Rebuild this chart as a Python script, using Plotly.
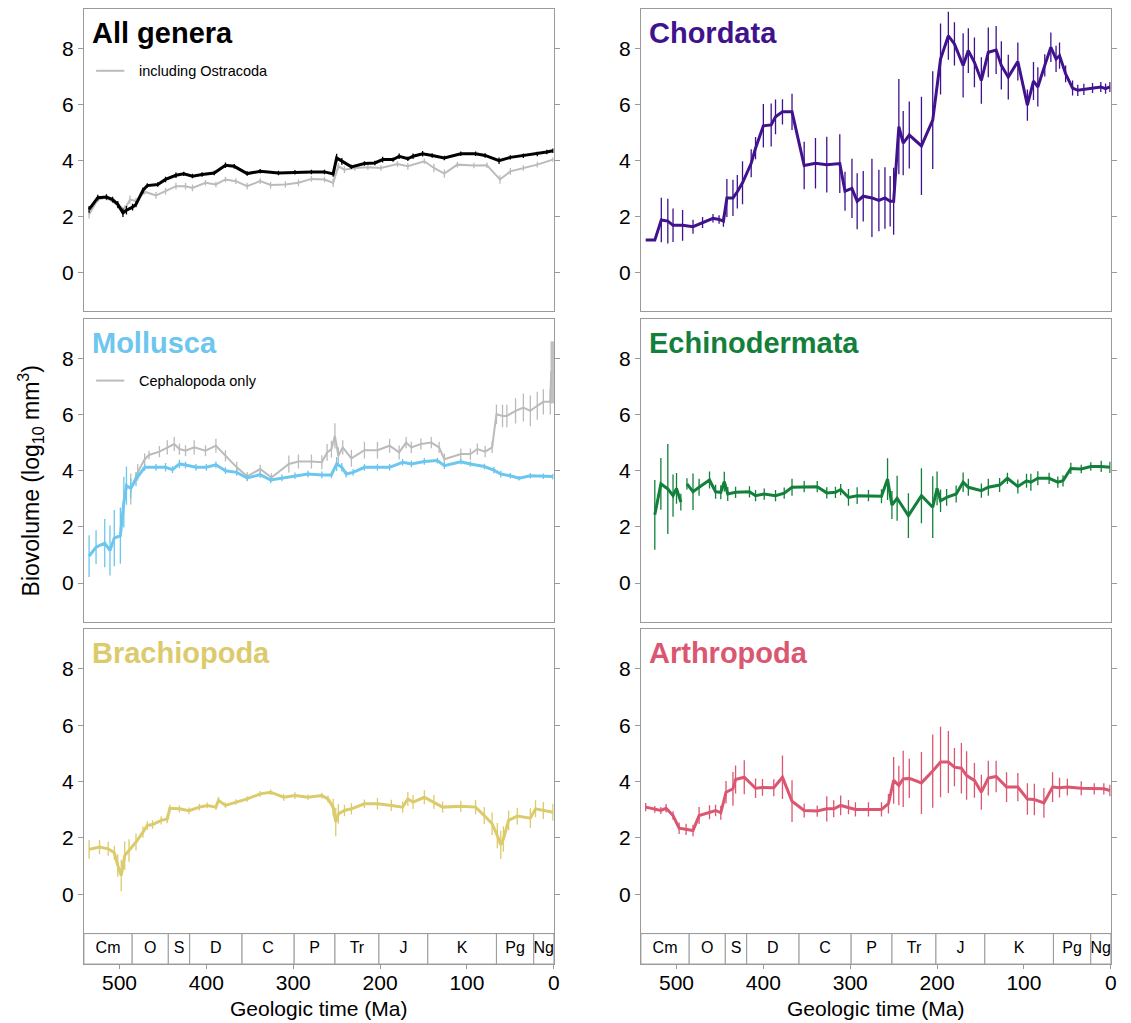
import plotly.graph_objects as go

# ---------------- data ----------------
period_names = ["Cm", "O", "S", "D", "C", "P", "Tr", "J", "K", "Pg", "Ng"]
period_start = [541.0, 485.4, 443.8, 419.2, 358.9, 298.9, 251.9, 201.3, 145.0, 66.0, 23.03]
period_end = [485.4, 443.8, 419.2, 358.9, 298.9, 251.9, 201.3, 145.0, 66.0, 23.03, 0.0]
time_ticks = [500, 400, 300, 200, 100, 0]
y_ticks = [0, 2, 4, 6, 8]

all_ma = [535, 525, 515, 508, 502, 496, 492, 485, 481, 473, 468, 456, 447, 435, 426, 416, 405, 391, 378, 368,
          353, 338, 317, 298, 279, 264, 254, 250, 244, 233, 218, 206, 197, 185, 178, 168, 162, 151, 140, 126,
          107, 90, 79, 63, 50, 35, 19, 8, 1]
all_val = [2.25, 2.67, 2.69, 2.6, 2.43, 2.13, 2.22, 2.33, 2.43, 2.93, 3.1, 3.14, 3.32, 3.47, 3.52, 3.44, 3.5, 3.55, 3.83, 3.79,
           3.53, 3.61, 3.55, 3.58, 3.59, 3.59, 3.52, 4.09, 3.97, 3.77, 3.89, 3.91, 4.03, 4.03, 4.15, 4.06, 4.15, 4.24, 4.18, 4.09,
           4.24, 4.24, 4.18, 3.99, 4.11, 4.17, 4.23, 4.3, 4.35]
all_err = [0.12, 0.1, 0.1, 0.1, 0.12, 0.15, 0.15, 0.12, 0.1, 0.1, 0.08, 0.08, 0.1, 0.1, 0.08, 0.08, 0.08, 0.08, 0.1, 0.08,
           0.08, 0.08, 0.08, 0.08, 0.08, 0.08, 0.1, 0.15, 0.12, 0.08, 0.08, 0.08, 0.1, 0.08, 0.1, 0.08, 0.1, 0.1, 0.08, 0.08,
           0.08, 0.08, 0.08, 0.12, 0.08, 0.08, 0.08, 0.08, 0.08]

ostra_ma = [535, 525, 515, 502, 494, 488, 481, 471, 458, 447, 435, 424, 416, 401, 389, 378, 366, 353, 338, 326,
            309, 294, 279, 264, 254, 248, 241, 229, 214, 199, 180, 168, 149, 138, 126, 111, 92, 77, 62, 50,
            35, 19, 1]
ostra_val = [2.07, 2.6, 2.67, 2.4, 2.25, 2.6, 2.55, 2.88, 2.75, 2.9, 3.08, 3.08, 3.02, 3.2, 3.14, 3.32, 3.26, 3.08, 3.26, 3.12,
             3.14, 3.2, 3.34, 3.32, 3.2, 3.79, 3.67, 3.73, 3.76, 3.73, 3.87, 3.79, 3.97, 3.73, 3.53, 3.85, 3.82, 3.83, 3.32, 3.61,
             3.73, 3.85, 4.03]
ostra_err = [0.15, 0.1, 0.1, 0.12, 0.15, 0.15, 0.12, 0.1, 0.12, 0.12, 0.12, 0.12, 0.12, 0.1, 0.1, 0.1, 0.1, 0.12, 0.1, 0.12,
             0.12, 0.12, 0.1, 0.1, 0.15, 0.12, 0.12, 0.1, 0.1, 0.1, 0.1, 0.12, 0.1, 0.15, 0.15, 0.1, 0.1, 0.1, 0.15, 0.12,
             0.1, 0.1, 0.08]

chord_ma = [535.5, 525, 517.5, 510, 504, 493, 481, 470, 458, 451, 446, 442, 435, 430, 424, 414, 409, 400, 391, 386,
            378, 367, 353, 340, 327, 312, 306, 298, 292, 285, 275, 267, 260, 254, 250, 244, 239, 232, 218, 205,
            196, 187, 180, 170, 164, 157, 149, 141, 132, 126, 118, 107, 96, 89, 84, 76, 69, 63, 59, 52,
            44, 38, 31, 21, 11.5, 6, 1]
chord_val = [1.15, 1.15, 1.87, 1.83, 1.68, 1.68, 1.63, 1.78, 1.93, 1.89, 1.83, 2.66, 2.66, 2.88, 3.2, 3.9, 4.44, 5.24, 5.27, 5.56,
             5.74, 5.74, 3.82, 3.9, 3.85, 3.89, 2.9, 3.0, 2.54, 2.72, 2.66, 2.57, 2.66, 2.54, 2.54, 5.21, 4.62, 4.91, 4.52, 5.44,
             7.63, 8.46, 8.17, 7.4, 7.93, 7.51, 6.86, 7.87, 7.95, 7.4, 6.98, 7.54, 5.98, 6.84, 6.63, 7.4, 8.05, 7.63, 7.75, 7.1,
             6.59, 6.51, 6.54, 6.59, 6.63, 6.57, 6.63]
chord_err = [0, 0, 0.8, 0.8, 0.6, 0.55, 0.25, 0.2, 0.15, 0.15, 0.2, 0.68, 0.65, 0.6, 0.77, 0.5, 0.4, 0.78, 0.77, 0.62,
             0.45, 0.65, 0.85, 0.9, 1.0, 1.05, 0.7, 1.06, 1.0, 0.9, 1.4, 1.1, 1.1, 0.9, 1.2, 1.7, 1.15, 1.2, 1.76, 1.75,
             1.27, 0.86, 0.77, 1.15, 0.8, 0.89, 0.83, 0.89, 0.86, 0.86, 0.8, 0.68, 0.56, 0.68, 0.7, 0.4, 0.53, 0.47, 0.47, 0.3,
             0.27, 0.2, 0.2, 0.18, 0.18, 0.18, 0.18]

moll_ma = [535, 527, 517, 511, 506, 499, 495, 492, 487, 481, 471, 458, 447, 439, 431, 424, 412, 400, 389, 378,
           365, 353, 338, 326, 313, 298, 283, 267, 256, 250, 244, 239, 231, 218, 203, 189, 174, 164, 149, 134,
           126, 107, 96, 80, 69, 61, 50, 40, 27, 12, 1]
moll_val = [0.96, 1.28, 1.42, 1.16, 1.6, 1.69, 2.88, 3.47, 3.37, 3.7, 4.12, 4.12, 4.12, 4.04, 4.24, 4.2, 4.12, 4.12, 4.21, 4.0,
            3.94, 3.74, 3.86, 3.67, 3.74, 3.82, 3.88, 3.85, 3.85, 4.24, 4.12, 3.88, 3.94, 4.12, 4.12, 4.12, 4.3, 4.24, 4.33, 4.36,
            4.18, 4.32, 4.24, 4.15, 4.02, 3.88, 3.82, 3.73, 3.82, 3.8, 3.79]
moll_err = [0.74, 0.6, 0.86, 0.89, 1.0, 1.0, 0.9, 0.68, 0.35, 0.25, 0.12, 0.12, 0.15, 0.12, 0.15, 0.12, 0.12, 0.12, 0.12, 0.12,
            0.12, 0.12, 0.12, 0.12, 0.12, 0.12, 0.12, 0.12, 0.12, 0.25, 0.15, 0.12, 0.12, 0.12, 0.12, 0.12, 0.12, 0.12, 0.12, 0.1,
            0.12, 0.1, 0.1, 0.1, 0.12, 0.12, 0.1, 0.08, 0.1, 0.1, 0.1]

ceph_ma = [487, 479, 471, 466, 454, 445, 437, 431, 424, 414, 401, 389, 378, 365, 353, 338, 325, 305, 294, 279,
           267, 261, 256, 252, 248, 243, 233, 218, 203, 189, 178, 170, 164, 153, 141, 132, 126, 107, 96, 88,
           79, 71, 66, 59, 54, 44, 35, 27, 19, 12, 4, 3, 2, 1, 0.3]
ceph_val = [3.35, 3.94, 4.41, 4.56, 4.68, 4.83, 4.95, 4.77, 4.71, 4.83, 4.71, 4.89, 4.53, 4.12, 3.8, 4.06, 3.76, 4.24, 4.33, 4.33,
            4.3, 4.65, 4.77, 5.24, 4.53, 4.83, 4.44, 4.73, 4.73, 4.89, 4.65, 5.0, 4.83, 4.95, 5.0, 4.83, 4.41, 4.59, 4.59, 4.77,
            4.68, 4.83, 6.01, 5.95, 5.95, 6.13, 6.25, 6.13, 6.31, 6.45, 6.45, 7.5, 7.5, 7.5, 7.5]
ceph_err = [0.55, 0.3, 0.2, 0.15, 0.2, 0.25, 0.25, 0.2, 0.2, 0.25, 0.2, 0.25, 0.2, 0.2, 0.15, 0.15, 0.15, 0.3, 0.25, 0.25,
            0.25, 0.3, 0.3, 0.45, 0.3, 0.25, 0.3, 0.3, 0.3, 0.25, 0.25, 0.2, 0.2, 0.2, 0.2, 0.2, 0.2, 0.2, 0.2, 0.2,
            0.2, 0.2, 0.35, 0.4, 0.4, 0.45, 0.5, 0.55, 0.5, 0.45, 0.45, 1.1, 1.1, 1.1, 1.1]

echi_ma = [525, 518, 510, 504, 500, 495, 491, 488, 481, 474, 462, 455, 449, 445, 441, 432, 416, 409, 399, 386,
           376, 367, 353, 338, 327, 317, 311, 302, 292, 279, 264, 257, 252, 246, 233, 218, 205, 200, 196, 189,
           178, 170, 164, 149, 141, 128, 119, 107, 97, 92, 84, 71, 61, 55, 46, 34, 23, 11, 1]
echi_val = [2.43, 3.53, 3.35, 3.11, 3.37, 2.88, None, 3.53, 3.25, 3.41, 3.67, 3.25, 3.23, 3.61, 3.17, 3.23, 3.25, 3.11, 3.17, 3.11,
            3.2, 3.41, 3.43, 3.43, 3.21, 3.23, 3.33, 3.05, 3.11, 3.11, 3.09, 3.7, 2.78, 3.02, 2.4, 3.11, 2.7, 3.37, 2.93, 3.05,
            3.17, 3.59, 3.41, 3.29, 3.41, 3.49, 3.73, 3.44, 3.64, 3.59, 3.73, 3.73, 3.59, 3.64, 4.08, 4.06, 4.15, 4.15, 4.12]
echi_err = [1.24, 0.92, 1.6, 0.75, 0.55, 0.3, 0, 0.2, 0.65, 0.3, 0.3, 0.25, 0.25, 0.35, 0.25, 0.2, 0.2, 0.2, 0.2, 0.2,
            0.2, 0.3, 0.2, 0.2, 0.2, 0.2, 0.2, 0.3, 0.3, 0.2, 0.25, 0.74, 0.5, 0.8, 0.8, 0.98, 1.1, 0.6, 0.4, 0.3,
            0.3, 0.35, 0.3, 0.25, 0.3, 0.25, 0.2, 0.25, 0.25, 0.3, 0.25, 0.2, 0.2, 0.2, 0.2, 0.15, 0.15, 0.2, 0.2]

brach_ma = [535, 523, 513, 506, 502, 498, 494, 489, 481, 473, 468, 462, 452, 445, 442, 431, 420, 408, 399, 389,
            386, 378, 366, 353, 338, 326, 311, 298, 283, 267, 260, 254, 251, 248, 241, 233, 218, 203, 187, 174,
            168, 162, 149, 138, 128, 107, 90, 80, 71, 65, 61, 58, 52, 42, 27, 21, 12, 1]
brach_val = [1.59, 1.67, 1.61, 1.47, 1.02, 0.66, 1.37, 1.55, 1.85, 2.2, 2.44, 2.47, 2.62, 2.67, 3.05, 3.03, 2.96, 3.09, 3.15, 3.09,
             3.33, 3.15, 3.27, 3.38, 3.56, 3.62, 3.44, 3.5, 3.44, 3.5, 3.38, 3.09, 2.56, 2.85, 2.97, 3.03, 3.21, 3.21, 3.15, 3.09,
             3.38, 3.27, 3.44, 3.27, 3.09, 3.12, 3.09, 2.79, 2.5, 2.08, 1.75, 1.96, 2.62, 2.77, 2.7, 3.03, 2.97, 2.91]
brach_err = [0.33, 0.25, 0.25, 0.25, 0.4, 0.56, 0.5, 0.4, 0.3, 0.2, 0.15, 0.15, 0.15, 0.15, 0.12, 0.12, 0.12, 0.12, 0.1, 0.1,
             0.12, 0.1, 0.1, 0.1, 0.1, 0.1, 0.12, 0.12, 0.1, 0.1, 0.12, 0.3, 0.5, 0.35, 0.2, 0.2, 0.15, 0.2, 0.2, 0.2,
             0.25, 0.25, 0.25, 0.25, 0.2, 0.2, 0.25, 0.3, 0.4, 0.45, 0.5, 0.45, 0.35, 0.3, 0.35, 0.3, 0.3, 0.3]

arth_ma = [535.5, 525, 518, 512, 504, 497, 489, 481, 474, 462, 455, 449, 443, 435, 432, 422, 409, 401, 388, 378,
           367, 353, 338, 327, 319, 311, 302, 294, 279, 264, 256, 250, 244, 239, 232, 218, 205, 196, 187, 180,
           172, 166, 157, 149, 141, 132, 120, 107, 96, 88, 77, 67, 59, 50, 34, 19, 8, 1]
arth_val = [3.09, 3.01, 2.97, 3.05, 2.79, 2.34, 2.3, 2.26, 2.79, 2.91, 2.97, 2.89, 3.62, 3.74, 4.07, 4.15, 3.76, 3.79, 3.78, 4.15,
            3.3, 2.97, 2.95, 3.03, 3.03, 3.15, 3.09, 3.01, 3.01, 3.01, 3.21, 4.04, 3.86, 4.09, 4.11, 3.95, 4.37, 4.69, 4.69, 4.51,
            4.47, 4.21, 4.04, 3.62, 4.12, 4.18, 3.8, 3.8, 3.38, 3.36, 3.24, 3.8, 3.78, 3.8, 3.76, 3.74, 3.74, 3.68]
arth_err = [0.15, 0.12, 0.12, 0.15, 0.15, 0.2, 0.2, 0.2, 0.3, 0.25, 0.2, 0.25, 0.4, 0.6, 0.5, 0.6, 0.35, 0.3, 0.3, 0.77,
            0.74, 0.25, 0.2, 0.45, 0.3, 0.35, 0.25, 0.25, 0.25, 0.25, 0.35, 0.83, 0.7, 1.0, 0.7, 1.1, 1.3, 1.25, 1.1, 0.68,
            0.9, 0.86, 0.62, 0.62, 0.62, 0.56, 0.53, 0.5, 0.56, 0.56, 0.53, 0.53, 0.35, 0.3, 0.25, 0.2, 0.2, 0.2]

# ---------------- layout geometry ----------------
# the page body has an 8px margin, so the figure starts at (8, 8) in the window
OFF = 8
W, H = 1131 - OFF, 1023 - OFF
FONT = "Liberation Sans, Arial, Helvetica, sans-serif"
GRID = "#9a9a9a"
GRAY = "#bbbbbb"


def clamp(v):
    return min(1.0, max(0.0, v))


def xdom(x0, x1):
    return [clamp((x0 - OFF) / W), clamp((x1 - OFF) / W)]


def ydom(top, bottom):
    return [clamp(1 - (bottom - OFF) / H), clamp(1 - (top - OFF) / H)]


def px_x(x):
    return (x - OFF) / W


def px_y(y):
    return 1 - (y - OFF) / H


col_x = [xdom(84.3, 556.7), xdom(644.3, 1116.7)]
row_y = [ydom(8.5, 310.7), ydom(318.3, 622.0), ydom(629.0, 933.5)]
bar_y = ydom(933.5, 964.0)

panels = [
    (1, 0, 0, "All genera", "#000000", (all_ma, all_val, all_err), (ostra_ma, ostra_val, ostra_err), "including Ostracoda"),
    (2, 1, 0, "Chordata", "#40128e", (chord_ma, chord_val, chord_err), None, None),
    (3, 0, 1, "Mollusca", "#6cc6ee", (moll_ma, moll_val, moll_err), (ceph_ma, ceph_val, ceph_err), "Cephalopoda only"),
    (4, 1, 1, "Echinodermata", "#12803a", (echi_ma, echi_val, echi_err), None, None),
    (5, 0, 2, "Brachiopoda", "#dbcb6c", (brach_ma, brach_val, brach_err), None, None),
    (6, 1, 2, "Arthropoda", "#db5670", (arth_ma, arth_val, arth_err), None, None),
]

fig = go.Figure()
annotations = []
shapes = []
layout_axes = {}


def ax_name(kind, i):
    return kind + ("" if i == 1 else str(i))


for idx, col, row, title, color, main, sec, legtext in panels:
    xa, ya = ax_name("x", idx), ax_name("y", idx)
    if sec is not None:
        fig.add_trace(go.Scatter(
            x=sec[0], y=sec[1], mode="lines", xaxis=xa, yaxis=ya,
            line=dict(color=GRAY, width=2),
            error_y=dict(type="data", array=sec[2], visible=True, color=GRAY, thickness=1.3, width=0),
            showlegend=False, hoverinfo="skip"))
    fig.add_trace(go.Scatter(
        x=main[0], y=main[1], mode="lines", xaxis=xa, yaxis=ya,
        line=dict(color=color, width=3), connectgaps=False,
        error_y=dict(type="data", array=main[2], visible=True, color=color, thickness=1.3, width=0),
        showlegend=False, hoverinfo="skip"))

    layout_axes[ax_name("xaxis", idx)] = dict(
        domain=col_x[col], anchor=ya, range=[541, 0], showgrid=False, zeroline=False,
        showline=True, mirror=True, linecolor=GRID, linewidth=1, ticks="", showticklabels=False)
    layout_axes[ax_name("yaxis", idx)] = dict(
        domain=row_y[row], anchor=xa, range=[-1.4, 9.4], tickvals=y_ticks, showgrid=False, zeroline=False,
        showline=True, mirror="ticks", linecolor=GRID, linewidth=1, ticks="outside", ticklen=5,
        tickcolor=GRID, tickwidth=1, tickfont=dict(size=21, color="black", family=FONT))

    annotations.append(dict(
        xref=xa + " domain", yref=ya + " domain", x=0.012, y=0.921, xanchor="left", yanchor="middle",
        text="<b>" + title + "</b>", showarrow=False, font=dict(size=29, color=color, family=FONT)))
    if legtext:
        shapes.append(dict(type="line", xref=xa + " domain", yref=ya + " domain",
                           x0=0.026, x1=0.086, y0=0.797, y1=0.797, line=dict(color=GRAY, width=2)))
        annotations.append(dict(
            xref=xa + " domain", yref=ya + " domain", x=0.114, y=0.797, xanchor="left", yanchor="middle",
            text=legtext, showarrow=False, font=dict(size=14.5, color="black", family=FONT)))

# geologic time scale bars
period_mid = [(s + e) / 2 for s, e in zip(period_start, period_end)]
period_len = [s - e for s, e in zip(period_start, period_end)]
for k, col in ((7, 0), (8, 1)):
    xa, ya = ax_name("x", k), ax_name("y", k)
    fig.add_trace(go.Bar(
        y=[0.5] * len(period_names), x=period_len, base=period_end, orientation="h", width=1,
        marker=dict(color="white", line=dict(color=GRID, width=1)), xaxis=xa, yaxis=ya,
        showlegend=False, hoverinfo="skip"))
    fig.add_trace(go.Scatter(
        x=period_mid, y=[0.5] * len(period_names), text=period_names, mode="text",
        textfont=dict(size=16, color="black", family=FONT), xaxis=xa, yaxis=ya,
        showlegend=False, hoverinfo="skip"))
    layout_axes[ax_name("xaxis", k)] = dict(
        domain=col_x[col], anchor=ya, range=[541, 0], tickvals=time_ticks, showgrid=False, zeroline=False,
        showline=True, mirror=True, linecolor=GRID, linewidth=1, ticks="outside", ticklen=4,
        tickcolor=GRID, tickfont=dict(size=21, color="black", family=FONT), ticklabelstandoff=-4)
    layout_axes[ax_name("yaxis", k)] = dict(
        domain=bar_y, anchor=xa, range=[0, 1], showgrid=False, zeroline=False, showline=True, mirror=True,
        linecolor=GRID, linewidth=1, ticks="", showticklabels=False, fixedrange=True)
    annotations.append(dict(
        xref="paper", yref="paper", x=(col_x[col][0] + col_x[col][1]) / 2, y=px_y(1008),
        xanchor="center", yanchor="middle", text="Geologic time (Ma)", showarrow=False,
        font=dict(size=21, color="black", family=FONT)))

annotations.append(dict(
    xref="paper", yref="paper", x=px_x(30), y=px_y(480), xanchor="center", yanchor="middle",
    text="Biovolume (log<sub>10</sub> mm<sup>3</sup>)", textangle=-90, showarrow=False,
    font=dict(size=23, color="black", family=FONT)))

fig.update_layout(
    width=W, height=H, margin=dict(l=0, r=0, t=0, b=0),
    paper_bgcolor="white", plot_bgcolor="white", barmode="overlay",
    font=dict(family=FONT, color="black"),
    annotations=annotations, shapes=shapes, **layout_axes)

fig.write_html("out.html")
